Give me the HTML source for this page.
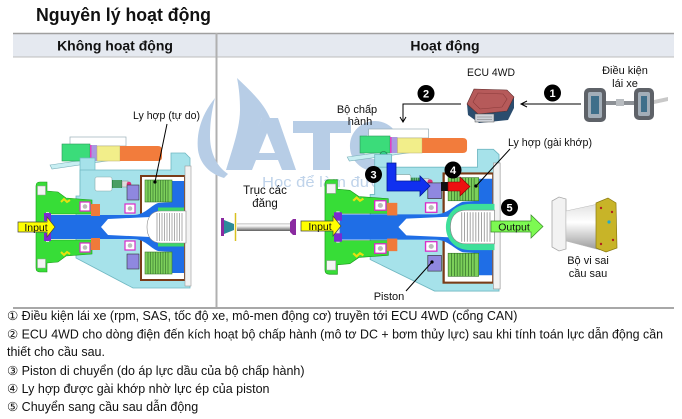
<!DOCTYPE html>
<html><head><meta charset="utf-8">
<style>
html,body{margin:0;padding:0;background:#fff;}
svg{display:block;}
text{font-family:"Liberation Sans","DejaVu Sans",sans-serif;fill:#111;}
</style></head><body>
<svg width="682" height="419" viewBox="0 0 682 419" xmlns="http://www.w3.org/2000/svg">
<defs>
 <linearGradient id="tube" x1="0" y1="0" x2="0" y2="1">
  <stop offset="0" stop-color="#cfcfcf"/><stop offset="0.35" stop-color="#fbfbfb"/><stop offset="1" stop-color="#5e5e5e"/>
 </linearGradient>
 <linearGradient id="cone" x1="0" y1="0" x2="0" y2="1">
  <stop offset="0" stop-color="#e2e2e2"/><stop offset="0.4" stop-color="#ffffff"/><stop offset="1" stop-color="#9a9a9a"/>
 </linearGradient>
</defs>
<rect width="682" height="419" fill="#fff"/>

<!-- Title -->
<text x="36" y="21" font-size="18" font-weight="bold" textLength="175" lengthAdjust="spacingAndGlyphs">Nguyên lý hoạt động</text>

<!-- Table header -->
<rect x="13" y="33" width="661" height="24" fill="#e5e9f0"/>
<line x1="13" y1="33.5" x2="674" y2="33.5" stroke="#a0a0a0" stroke-width="1.5"/>
<line x1="13" y1="57" x2="674" y2="57" stroke="#bdbdbd" stroke-width="1"/>
<line x1="216.5" y1="33" x2="216.5" y2="308" stroke="#b0b0b0" stroke-width="2"/>
<line x1="13" y1="308" x2="674" y2="308" stroke="#a8a8a8" stroke-width="2"/>
<text x="115" y="50.5" font-size="14" font-weight="bold" text-anchor="middle">Không hoạt động</text>
<text x="445" y="50.5" font-size="14" font-weight="bold" text-anchor="middle">Hoạt động</text>

<!-- Watermark -->
<g fill="#b7cde6">
 <path d="M215,98 C202,114 196,132 198,150 C200,164 210,174 224,178 L228,174 C216,166 210,152 210,136 C210,122 212,110 215,98 Z"/>
 <path d="M237,78 C252,92 264,104 270,118 L262,118 L238,170 L226,170 C232,150 240,128 240,110 C240,98 239,88 237,78 Z"/>
 <path d="M262,118 L278,118 L296,170 L282,170 L278,160 L256,160 L252,170 L236,170 Z"/>
 <rect x="293" y="121" width="58" height="12"/>
 <rect x="313" y="121" width="17" height="49"/>
</g>
<path d="M259,153 L275,153 L267,133 Z" fill="#fff"/>
<path d="M388.4,132.6 A19,19 0 1,0 388.4,159.4" fill="none" stroke="#b7cde6" stroke-width="12"/>
<text x="262" y="187" font-size="15" style="fill:#bfd3ea" textLength="128" lengthAdjust="spacingAndGlyphs">Học để làm được</text>

<!-- ================= LEFT MECHANISM ================= -->
<g>
 <!-- actuator -->
 <rect x="70" y="137" width="56" height="9" fill="#fff" stroke="#9ab0b8" stroke-width="0.7"/>
 <path d="M50,165 L118,155 L120,159 L52,169 Z" fill="#c8eef2" stroke="#7ab0ba" stroke-width="0.6"/>
 <rect x="62" y="144" width="28" height="17" fill="#3bdc7a" stroke="#2a9a5a" stroke-width="0.6"/>
 <rect x="90" y="145" width="7" height="16" fill="#a898e0"/>
 <rect x="90" y="145" width="1.5" height="16" fill="#e040c0"/>
 <rect x="97" y="146" width="23" height="15" fill="#f2ee8a" stroke="#b8b070" stroke-width="0.5"/>
 <path d="M120,146 L158,146 Q162,146 162,150 L162,157 Q162,161 158,161 L120,161 Z" fill="#f27c3c"/>
 <circle cx="84" cy="163" r="3.5" fill="#33cc88" stroke="#226644" stroke-width="0.6"/>
</g>
<g>
 <path d="M80,158 L95,158 L95,176 L89,176 L89,196 L80,196 Z" fill="#a6e2ea" stroke="#70b8c2" stroke-width="0.7"/>
 <path d="M80,196 L80,170 L171,170 L171,153 L185,153 L190,158 L190,288 L133,288 L76,258 L76,196 Z" fill="#a6e2ea" stroke="#70b8c2" stroke-width="0.8"/>
 <rect x="95" y="177" width="17" height="14" rx="2" fill="#fff" stroke="#88aaaa" stroke-width="0.6"/>
 <rect x="112" y="180" width="10" height="8" fill="#2f8a4a"/>
 <path d="M114,180 v8 M116,180 v8 M118,180 v8 M120,180 v8" stroke="#9fd8b0" stroke-width="0.5"/>
 <rect x="122" y="181" width="6" height="6" fill="#ddd" stroke="#888" stroke-width="0.5"/>
 <circle cx="129" cy="184" r="2.3" fill="#e0307a"/>
 <rect x="141" y="176" width="44" height="104" fill="#fff" stroke="#7a3c18" stroke-width="2"/>
 <rect x="185" y="166" width="6" height="120" fill="#f2f2f2" stroke="#999" stroke-width="0.6"/>
 <path d="M36,186 Q36,182 40,182 L47,182 L47,191 L58,192 L66,198 L92,200 L92,214 L48,214 L48,240 L92,240 L92,254 L66,256 L58,262 L47,263 L47,272 L40,272 Q36,272 36,268 Z" fill="#37dd37" stroke="#1a9a1a" stroke-width="0.6"/>
 <rect x="37.5" y="186" width="8" height="9" fill="#f4f4f4" stroke="#999" stroke-width="0.5"/>
 <rect x="37.5" y="259" width="8" height="9" fill="#f4f4f4" stroke="#999" stroke-width="0.5"/>
 <path d="M48,215 L133,215 C145,215 150,206 158,203 L172,202 L172,181 L184,181 L184,273 L172,273 L172,252 L158,251 C150,248 145,239 133,239 L48,239 Z" fill="#1f6ee6"/>
 <rect x="46" y="212" width="3" height="30" fill="#ddd"/>
 <rect x="44" y="213" width="7" height="8" fill="#7a2ad0"/>
 <rect x="44" y="233" width="7" height="8" fill="#7a2ad0"/>
 <path d="M101,227 L108,219 L150,217 L150,237 L108,235 Z" fill="#fff"/>
 <rect x="145" y="180" width="27" height="22" fill="#7ccf5a" stroke="#3a7a2a" stroke-width="0.6"/>
 <rect x="145" y="252" width="27" height="22" fill="#7ccf5a" stroke="#3a7a2a" stroke-width="0.6"/>
 <path d="M148,180v22M150.5,180v22M153,180v22M155.5,180v22M158,180v22M160.5,180v22M163,180v22M165.5,180v22M168,180v22M148,252v22M150.5,252v22M153,252v22M155.5,252v22M158,252v22M160.5,252v22M163,252v22M165.5,252v22M168,252v22" stroke="#2f6a2a" stroke-width="0.6"/>
 <rect x="158" y="207.5" width="26" height="3.5" fill="#3ed66a"/>
 <rect x="158" y="243" width="26" height="3.5" fill="#3ed66a"/>
 <path d="M186,211 L161,211 C151,211 147,218 147,227 C147,236 151,243 161,243 L186,243 Z" fill="#fff" stroke="#888" stroke-width="0.6"/>
 <path d="M157,213v28M159.5,213v28M162,213v28M164.5,213v28M167,213v28M169.5,213v28M172,213v28M174.5,213v28M177,213v28M179.5,213v28M182,213v28" stroke="#9a9a9a" stroke-width="0.8"/>
 <rect x="127" y="185" width="12" height="15" fill="#8f88e0" stroke="#333" stroke-width="0.6"/>
 <rect x="127" y="254" width="12" height="15" fill="#8f88e0" stroke="#333" stroke-width="0.6"/>
 <g fill="#fff" stroke="#d82cc8" stroke-width="1.2">
  <rect x="80" y="202" width="10" height="9"/><rect x="125" y="204" width="10" height="9"/>
  <rect x="80" y="243" width="10" height="9"/><rect x="125" y="241" width="10" height="9"/>
 </g>
 <g fill="#bbb"><circle cx="85" cy="206.5" r="2.3"/><circle cx="130" cy="208.5" r="2.3"/><circle cx="85" cy="247.5" r="2.3"/><circle cx="130" cy="245.5" r="2.3"/></g>
 <rect x="91" y="204" width="9" height="12" fill="#f07a3a"/>
 <rect x="91" y="238" width="9" height="12" fill="#f07a3a"/>
 <path d="M61,202 l3,-3 l3,3 l3,-2 M61,252 l3,3 l3,-3 l3,2" stroke="#e8e010" stroke-width="2" fill="none"/>
</g>

<!-- Left input arrow -->
<path d="M18,222 L47,222 L47,217 L55,227 L47,237 L47,232 L18,232 Z" fill="#ffff00" stroke="#444" stroke-width="0.7"/>
<text x="36" y="231" font-size="10.5" text-anchor="middle">Input</text>

<!-- Left label -->
<text x="133" y="119" font-size="11" textLength="67" lengthAdjust="spacingAndGlyphs">Ly hợp (tự do)</text>
<line x1="167" y1="124" x2="155" y2="182" stroke="#000" stroke-width="1"/>
<circle cx="155" cy="182" r="1.6" fill="#000"/>

<!-- Truc cac dang -->
<text x="265" y="194" font-size="11.5" text-anchor="middle">Trục các</text>
<text x="265" y="207" font-size="11.5" text-anchor="middle">đăng</text>
<rect x="237" y="223" width="54" height="8" fill="url(#tube)"/>
<path d="M224,220 L229,222 L234,224 L234,230 L229,232 L224,234 Z" fill="#2a8a9a"/>
<rect x="221" y="218" width="3" height="18" fill="#8a2aa0"/>
<line x1="235.5" y1="213" x2="235.5" y2="241" stroke="#d8c020" stroke-width="1.5"/>
<path d="M290,222 L293,219 L296,219 L296,235 L293,235 L290,232 Z" fill="#8a2aa0"/>

<!-- ================= RIGHT MECHANISM ================= -->
<g transform="translate(293.7,-8) scale(1.07,1)">
 <rect x="70" y="137" width="56" height="9" fill="#fff" stroke="#9ab0b8" stroke-width="0.7"/>
 <path d="M50,165 L118,155 L120,159 L52,169 Z" fill="#c8eef2" stroke="#7ab0ba" stroke-width="0.6"/>
 <rect x="62" y="144" width="28" height="17" fill="#3bdc7a" stroke="#2a9a5a" stroke-width="0.6"/>
 <rect x="90" y="145" width="7" height="16" fill="#a898e0"/>
 <rect x="90" y="145" width="1.5" height="16" fill="#e040c0"/>
 <rect x="97" y="146" width="23" height="15" fill="#f2ee8a" stroke="#b8b070" stroke-width="0.5"/>
 <path d="M120,146 L158,146 Q162,146 162,150 L162,157 Q162,161 158,161 L120,161 Z" fill="#f27c3c"/>
 <circle cx="84" cy="163" r="3.5" fill="#33cc88" stroke="#226644" stroke-width="0.6"/>
</g>
<g transform="matrix(1.13 0 0 1.05 284.3 -11.35)">
 <path d="M80,158 L95,158 L95,176 L89,176 L89,196 L80,196 Z" fill="#a6e2ea" stroke="#70b8c2" stroke-width="0.7"/>
 <path d="M80,196 L80,170 L171,170 L171,153 L185,153 L190,158 L190,288 L133,288 L76,258 L76,196 Z" fill="#a6e2ea" stroke="#70b8c2" stroke-width="0.8"/>
 <rect x="95" y="177" width="17" height="14" rx="2" fill="#fff" stroke="#88aaaa" stroke-width="0.6"/>
 <rect x="112" y="180" width="10" height="8" fill="#2f8a4a"/>
 <path d="M114,180 v8 M116,180 v8 M118,180 v8 M120,180 v8" stroke="#9fd8b0" stroke-width="0.5"/>
 <rect x="122" y="181" width="6" height="6" fill="#ddd" stroke="#888" stroke-width="0.5"/>
 <circle cx="129" cy="184" r="2.3" fill="#e0307a"/>
 <rect x="141" y="176" width="44" height="104" fill="#fff" stroke="#7a3c18" stroke-width="2"/>
 <rect x="185" y="166" width="6" height="120" fill="#f2f2f2" stroke="#999" stroke-width="0.6"/>
 <path d="M36,186 Q36,182 40,182 L47,182 L47,191 L58,192 L66,198 L92,200 L92,214 L48,214 L48,240 L92,240 L92,254 L66,256 L58,262 L47,263 L47,272 L40,272 Q36,272 36,268 Z" fill="#37dd37" stroke="#1a9a1a" stroke-width="0.6"/>
 <rect x="37.5" y="186" width="8" height="9" fill="#f4f4f4" stroke="#999" stroke-width="0.5"/>
 <rect x="37.5" y="259" width="8" height="9" fill="#f4f4f4" stroke="#999" stroke-width="0.5"/>
 <path d="M48,215 L133,215 C145,215 150,206 158,203 L172,202 L172,181 L184,181 L184,273 L172,273 L172,252 L158,251 C150,248 145,239 133,239 L48,239 Z" fill="#1f6ee6"/>
 <rect x="46" y="212" width="3" height="30" fill="#ddd"/>
 <rect x="44" y="213" width="7" height="8" fill="#7a2ad0"/>
 <rect x="44" y="233" width="7" height="8" fill="#7a2ad0"/>
 <path d="M101,227 L108,219 L150,217 L150,237 L108,235 Z" fill="#fff"/>
 <rect x="145" y="180" width="27" height="22" fill="#7ccf5a" stroke="#3a7a2a" stroke-width="0.6"/>
 <rect x="145" y="252" width="27" height="22" fill="#7ccf5a" stroke="#3a7a2a" stroke-width="0.6"/>
 <path d="M148,180v22M150.5,180v22M153,180v22M155.5,180v22M158,180v22M160.5,180v22M163,180v22M165.5,180v22M168,180v22M148,252v22M150.5,252v22M153,252v22M155.5,252v22M158,252v22M160.5,252v22M163,252v22M165.5,252v22M168,252v22" stroke="#2f6a2a" stroke-width="0.6"/>
 <path d="M186,205 L165,205 C150,205 143,216 143,227 C143,238 150,249 165,249 L186,249 Z" fill="#3ee09a"/>
 <path d="M186,211 L161,211 C151,211 147,218 147,227 C147,236 151,243 161,243 L186,243 Z" fill="#fff" stroke="#888" stroke-width="0.6"/>
 <path d="M157,213v28M159.5,213v28M162,213v28M164.5,213v28M167,213v28M169.5,213v28M172,213v28M174.5,213v28M177,213v28M179.5,213v28M182,213v28" stroke="#9a9a9a" stroke-width="0.8"/>
 <rect x="127" y="185" width="12" height="15" fill="#8f88e0" stroke="#333" stroke-width="0.6"/>
 <rect x="127" y="254" width="12" height="15" fill="#8f88e0" stroke="#333" stroke-width="0.6"/>
 <g fill="#fff" stroke="#d82cc8" stroke-width="1.2">
  <rect x="80" y="202" width="10" height="9"/><rect x="125" y="204" width="10" height="9"/>
  <rect x="80" y="243" width="10" height="9"/><rect x="125" y="241" width="10" height="9"/>
 </g>
 <g fill="#bbb"><circle cx="85" cy="206.5" r="2.3"/><circle cx="130" cy="208.5" r="2.3"/><circle cx="85" cy="247.5" r="2.3"/><circle cx="130" cy="245.5" r="2.3"/></g>
 <rect x="91" y="204" width="9" height="12" fill="#f07a3a"/>
 <rect x="91" y="238" width="9" height="12" fill="#f07a3a"/>
 <path d="M61,202 l3,-3 l3,3 l3,-2 M61,252 l3,3 l3,-3 l3,2" stroke="#e8e010" stroke-width="2" fill="none"/>
</g>

<!-- Right input / output arrows -->
<path d="M301,221 L333,221 L333,216 L341,226 L333,236 L333,231 L301,231 Z" fill="#ffff00" stroke="#444" stroke-width="0.7"/>
<text x="320" y="230" font-size="10.5" text-anchor="middle">Input</text>
<path d="M491,221 L531,221 L531,215 L543,226.5 L531,238 L531,232 L491,232 Z" fill="#7dfa52" stroke="#3a8a2a" stroke-width="0.7"/>
<text x="514" y="230.5" font-size="10.5" text-anchor="middle">Output</text>

<!-- Blue L arrow (3) -->
<path d="M387,163 L396,163 L396,181 L420,181 L420,176 L430,186 L420,196 L420,191 L387,191 Z" fill="#1030f0" stroke="#001a99" stroke-width="0.8"/>
<!-- Red arrow (4) -->
<rect x="441" y="182" width="7" height="9" fill="#111"/>
<path d="M448,182 L460,182 L460,177 L470,186.5 L460,196 L460,191 L448,191 Z" fill="#ee1111" stroke="#880000" stroke-width="0.6"/>

<!-- Number circles -->
<g>
 <circle cx="552.5" cy="93" r="8.5" fill="#000"/><text x="552.5" y="97" font-size="11" font-weight="bold" text-anchor="middle" style="fill:#fff">1</text>
 <circle cx="426" cy="93.5" r="8.5" fill="#000"/><text x="426" y="97.5" font-size="11" font-weight="bold" text-anchor="middle" style="fill:#fff">2</text>
 <circle cx="373.5" cy="174.5" r="8.5" fill="#000"/><text x="373.5" y="178.5" font-size="11" font-weight="bold" text-anchor="middle" style="fill:#fff">3</text>
 <circle cx="453" cy="170" r="8.5" fill="#000"/><text x="453" y="174" font-size="11" font-weight="bold" text-anchor="middle" style="fill:#fff">4</text>
 <circle cx="509.5" cy="207.5" r="8.5" fill="#000"/><text x="509.5" y="211.5" font-size="11" font-weight="bold" text-anchor="middle" style="fill:#fff">5</text>
</g>

<!-- ECU -->
<text x="491" y="76" font-size="11" text-anchor="middle" textLength="48" lengthAdjust="spacingAndGlyphs">ECU 4WD</text>
<path d="M467,104 L478,114 L507,111 L514,97 L514,108 L508,120 L479,123 L468,115 Z" fill="#2b4d6e"/>
<path d="M467,104 L474,89 L507,90 L514,97 L507,111 L478,114 Z" fill="#b65a5a" stroke="#5a2a2a" stroke-width="0.6"/>
<path d="M473,102 L478,93 L503,94 L507,99 L502,107 L480,109 Z" fill="none" stroke="#8a3a3a" stroke-width="0.6"/>
<rect x="475" y="114" width="19" height="8" fill="#cfd3da" stroke="#555" stroke-width="0.5"/>
<path d="M477,117 h15 M477,119.5 h15" stroke="#777" stroke-width="0.5"/>

<!-- Arrow 2 -->
<path d="M461,104 L403,104 L403,122" fill="none" stroke="#000" stroke-width="1"/>
<path d="M400,117 L403,122 L406,117" fill="none" stroke="#000" stroke-width="1"/>
<!-- Arrow 1 -->
<line x1="581" y1="104" x2="521" y2="104" stroke="#000" stroke-width="1"/>
<path d="M527,101 L521,104 L527,107" fill="none" stroke="#000" stroke-width="1"/>

<!-- Driving condition -->
<text x="625" y="74" font-size="11" text-anchor="middle">Điều kiện</text>
<text x="625" y="87" font-size="11" text-anchor="middle">lái xe</text>
<g>
 <rect x="584" y="88" width="22" height="34" rx="5" fill="#5e6268"/>
 <rect x="588" y="92" width="14" height="26" rx="2" fill="#a3aeb8"/>
 <rect x="591" y="96" width="8" height="18" fill="#3f6f8a"/>
 <rect x="606" y="101" width="30" height="4" fill="#8d9196"/>
 <rect x="616" y="99" width="8" height="7" fill="#b8bcc0"/>
 <rect x="634" y="88" width="20" height="32" rx="5" fill="#5e6268"/>
 <rect x="638" y="92" width="12" height="24" rx="2" fill="#a3aeb8"/>
 <rect x="641" y="96" width="6" height="16" fill="#3f6f8a"/>
 <path d="M654,100 L668,97 L668,101 L654,104 Z" fill="#c8c8c8"/>
</g>

<!-- Right labels -->
<text x="357" y="113" font-size="11" text-anchor="middle">Bộ chấp</text>
<text x="360" y="125" font-size="11" text-anchor="middle">hành</text>
<text x="508" y="146" font-size="11" textLength="84" lengthAdjust="spacingAndGlyphs">Ly hợp (gài khớp)</text>
<line x1="510" y1="149" x2="476" y2="186" stroke="#000" stroke-width="1"/>
<circle cx="476" cy="186" r="1.6" fill="#000"/>
<text x="389" y="300" font-size="11" text-anchor="middle">Piston</text>
<line x1="406" y1="291" x2="432" y2="262" stroke="#000" stroke-width="1"/>
<circle cx="432" cy="262" r="1.6" fill="#000"/>

<!-- Differential -->
<path d="M552,201 L559,197 L566,199 L566,249 L559,251 L552,247 Z" fill="#f2f2f2" stroke="#a8a8a8" stroke-width="0.8"/>
<path d="M566,211 L598,204 L600,250 L566,241 Z" fill="url(#cone)" stroke="#bbb" stroke-width="0.5"/>
<path d="M596,203 L608,198 L616,203 L617,248 L606,252 L596,248 Z" fill="#c8b428" stroke="#8a7a10" stroke-width="0.7"/>
<g fill="#b02020"><circle cx="601" cy="208" r="1.2"/><circle cx="612" cy="212" r="1.2"/><circle cx="613" cy="240" r="1.2"/><circle cx="601" cy="244" r="1.2"/></g>
<circle cx="609" cy="222" r="1.6" fill="#22aacc"/>
<text x="588" y="264" font-size="11" text-anchor="middle">Bộ vi sai</text>
<text x="588" y="277" font-size="11" text-anchor="middle">cầu sau</text>

<!-- Bottom notes -->
<g font-size="12.5">
 <text x="7" y="320">① Điều kiện lái xe (rpm, SAS, tốc độ xe, mô-men động cơ) truyền tới ECU 4WD (cổng CAN)</text>
 <text x="7" y="338.5" textLength="656" lengthAdjust="spacingAndGlyphs">② ECU 4WD cho dòng điện đến kích hoạt bộ chấp hành (mô tơ DC + bơm thủy lực) sau khi tính toán lực dẫn động cần</text>
 <text x="7" y="356">thiết cho cầu sau.</text>
 <text x="7" y="375">③ Piston di chuyển (do áp lực dầu của bộ chấp hành)</text>
 <text x="7" y="393">④ Ly hợp được gài khớp nhờ lực ép của piston</text>
 <text x="7" y="411">⑤ Chuyển sang cầu sau dẫn động</text>
</g>
</svg>
</body></html>
